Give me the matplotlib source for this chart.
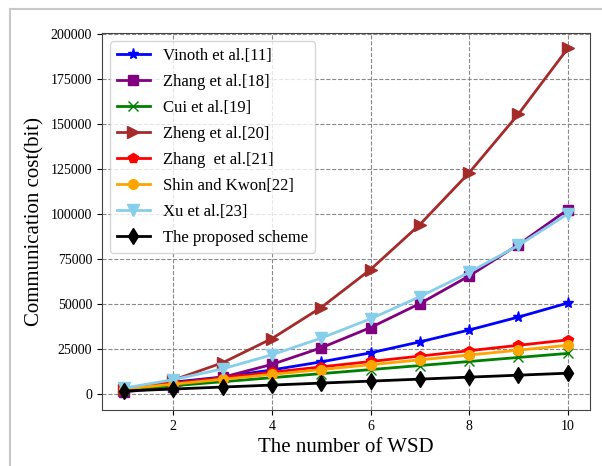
import matplotlib.pyplot as plt
from matplotlib.lines import Line2D

plt.rcParams['font.family'] = ['Liberation Serif', 'DejaVu Serif']

# nombre de WSD
wsd = [1, 2, 3, 4, 5, 6, 7, 8, 9, 10]

vinoth = [3000, 6500, 9400, 13300, 17800, 22800, 28900, 35500, 42700, 50500]
zhang18 = [1024, 4096, 9216, 16384, 25600, 36864, 50176, 65536, 82944, 102400]
cui = [2250, 4500, 6750, 9000, 11250, 13500, 15750, 18000, 20250, 22500]
zheng = [1920, 7680, 17280, 30720, 48000, 69120, 94080, 122880, 155520, 192000]
zhang21 = [3000, 6000, 9000, 12000, 15000, 18000, 21000, 24000, 27000, 30000]
shin = [2700, 5400, 8100, 10800, 13500, 16200, 18900, 21600, 24300, 27000]
xu = [3200, 7900, 13900, 21700, 31000, 41700, 54000, 67500, 82500, 100000]
proposed = [1600, 2700, 3800, 4900, 6000, 7100, 8200, 9300, 10400, 11500]

fig = plt.figure(figsize=(6.02, 4.66), dpi=100)
ax = fig.add_axes([0.169, 0.120, 0.811, 0.809])

ax.plot(wsd, vinoth, color='blue', marker='*', ms=8, lw=2, label='Vinoth et al.[11]')
ax.plot(wsd, zhang18, color='purple', marker='s', ms=7, lw=2, label='Zhang et al.[18]')
ax.plot(wsd, cui, color='green', marker='x', ms=7, lw=2, label='Cui et al.[19]')
ax.plot(wsd, zheng, color='brown', marker='>', ms=8, lw=2, label='Zheng et al.[20]')
ax.plot(wsd, zhang21, color='red', marker='p', ms=7, lw=2, label='Zhang  et al.[21]')
ax.plot(wsd, shin, color='orange', marker='o', ms=7, lw=2, label='Shin and Kwon[22]')
ax.plot(wsd, xu, color='skyblue', marker='v', ms=8, lw=2, label='Xu et al.[23]')
ax.plot(wsd, proposed, color='black', marker='d', ms=8, lw=2, label='The proposed scheme')

ax.set_xticks([2, 4, 6, 8, 10])
ax.set_ylim(-9000, 200500)
ax.grid(True, linestyle='--', color='#888888', lw=0.8)
ax.tick_params(labelsize=10)
for s in ax.spines.values():
    s.set_color('#444444')
ax.set_xlabel('The number of WSD', fontsize=15)
ax.set_ylabel('Communication cost(bit)', fontsize=15)
ax.legend(loc='upper left', fontsize=12, labelspacing=0.6)

# cadre gris de la capture
fig.add_artist(Line2D([10 / 602, 10 / 602], [0, 1 - 9 / 466], color='#c8c8c8', lw=1.5))
fig.add_artist(Line2D([10 / 602, 1], [1 - 9 / 466, 1 - 9 / 466], color='#c8c8c8', lw=1.5))

fig.savefig('out.png')
